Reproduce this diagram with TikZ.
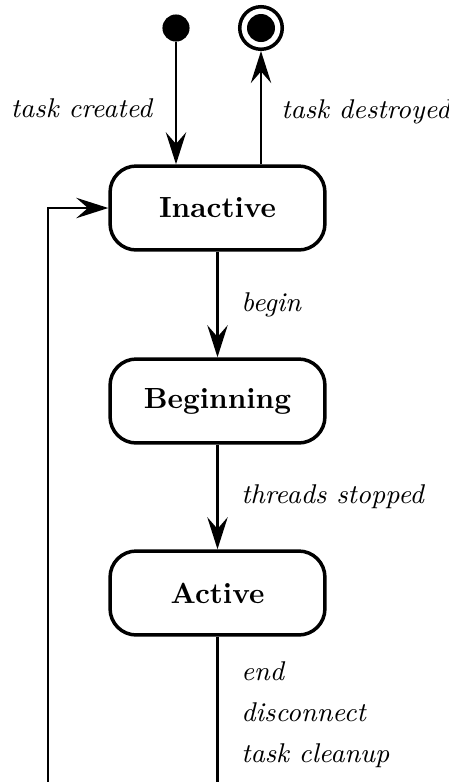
\documentclass[tikz,border=0pt]{standalone}
\usepackage{amsmath, amssymb}
\usetikzlibrary{positioning,arrows.meta}

\begin{document}
\begin{tikzpicture}[x=0.343pt, y=-0.343pt, >={Stealth[length=11pt, width=7pt, inset=4pt]},
  state/.style={draw, line width=1.2pt, rounded corners=9pt, minimum width=73.7pt, minimum height=28.8pt, font=\bfseries},
  conn/.style={line width=0.7pt},
  lbl/.style={font=\fontsize{9.3}{11.2}\selectfont\itshape}]
  \useasboundingbox (0,0) rectangle (449,782);
  % start and end points
  \node[circle, fill, inner sep=0pt, minimum size=9.3pt] (init) at (176,28) {};
  \node[circle, draw, line width=1.2pt, inner sep=0pt, minimum size=14.6pt] (fin) at (261,28) {};
  \node[circle, fill, inner sep=0pt, minimum size=9.6pt] (fdot) at (fin) {};
  % states
  \node[state] (ina) at (217.5,208) {Inactive};
  \node[state] (beg) at (217.5,401) {Beginning};
  \node[state] (act) at (217.5,593) {Active};
  \coordinate (lb) at (48,810);
  % transitions
  \draw[conn, ->] (init) -- node[lbl, left=4.5pt, pos=0.54] {task created} (init |- ina.north);
  \draw[conn, ->] (fin |- ina.north) -- node[lbl, right=3.3pt, pos=0.46] {task destroyed} (fin.south);
  \draw[conn, ->] (ina) -- node[lbl, right=4.5pt] {begin} (beg);
  \draw[conn, ->] (beg) -- node[lbl, right=4.5pt] {threads stopped} (act);
  \draw[conn, ->] (act.south) -- node[lbl, right=4.5pt, pos=0.45, align=left] {end\\[3pt]disconnect\\[3pt]task cleanup} (act.south |- lb) -- (lb) |- (ina.west);
\end{tikzpicture}
\end{document}
